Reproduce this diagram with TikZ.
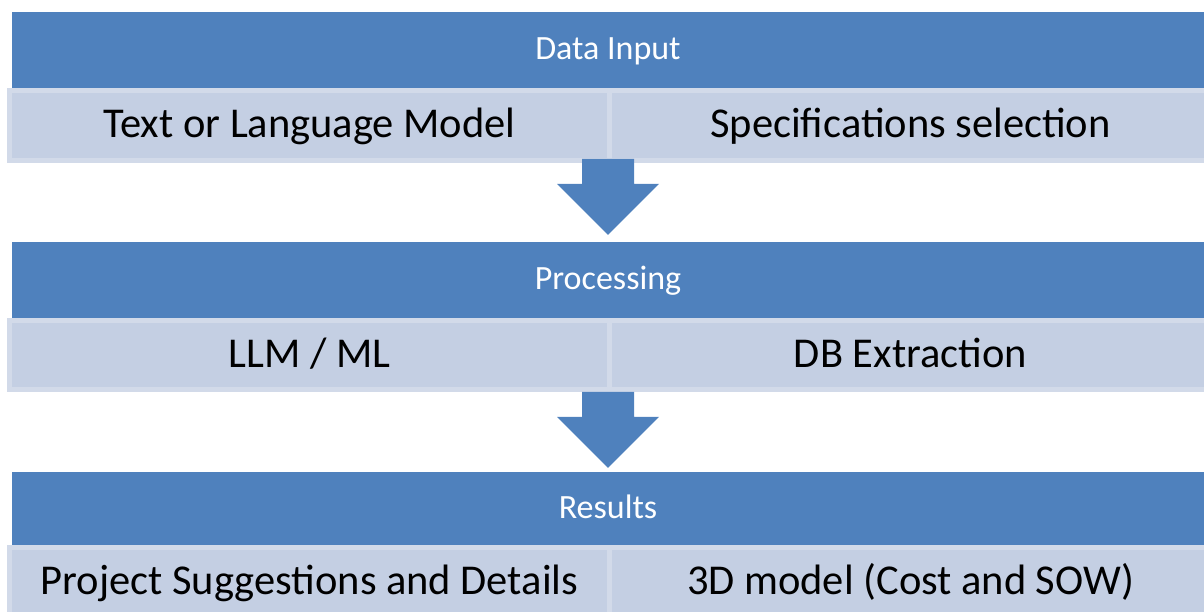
\documentclass[tikz,border=0pt]{standalone}
\usepackage{fontspec}
\setmainfont{Carlito}
\definecolor{hdrblue}{HTML}{4F81BD}
\definecolor{cellfill}{HTML}{C4CFE3}
\definecolor{cellline}{HTML}{D2DAE9}

\begin{document}
\begin{tikzpicture}[x=1pt, y=-1pt,
    hdr/.style = {fill=hdrblue, text=white, minimum width=1192pt, inner sep=0pt,
      text height=24pt, text depth=5pt, font=\fontsize{34}{40}\selectfont},
    cell/.style = {fill=cellfill, draw=cellline, line width=5pt, inner sep=0pt,
      text height=30pt, text depth=5pt, font=\fontsize{42.5}{50}\selectfont},
    down/.style = {fill=hdrblue}]
  \def\leftX{309.5}
  \def\rightX{910.5}
  \useasboundingbox (0,0) rectangle (1204,612);
  \clip (0,0) rectangle (1204,612);

  % Header bars
  \node[hdr, minimum height=76pt] (input) at (608,50) {Data Input};
  \node[hdr, minimum height=76pt] (proc) at (608,280) {Processing};
  \node[hdr, minimum height=73pt] (res) at (608,508.5) {Results};

  % Cells under each header
  \node[cell, minimum width=600pt, minimum height=70pt] (input-1) at (\leftX,125.5) {Text or Language Model};
  \node[cell, minimum width=602pt, minimum height=70pt] (input-2) at (\rightX,125.5) {Specifications selection};
  \node[cell, minimum width=600pt, minimum height=69pt] (proc-1) at (\leftX,355) {LLM / ML};
  \node[cell, minimum width=602pt, minimum height=69pt] (proc-2) at (\rightX,355) {DB Extraction};
  \node[cell, minimum width=600pt, minimum height=69pt] (res-1) at (\leftX,582) {Project Suggestions and Details};
  \node[cell, minimum width=602pt, minimum height=69pt] (res-2) at (\rightX,582) {3D model (Cost and SOW)};

  % Arrows between the stages (tip just above the next header)
  \foreach \next/\gap in {proc/7, res/4}{
      \fill[down] ([yshift=\gap pt]\next.north) -- ++(-51,-51) -- ++(25,0) -- ++(0,-25)
        -- ++(52,0) -- ++(0,25) -- ++(25,0) -- cycle;
    }
\end{tikzpicture}
\end{document}
